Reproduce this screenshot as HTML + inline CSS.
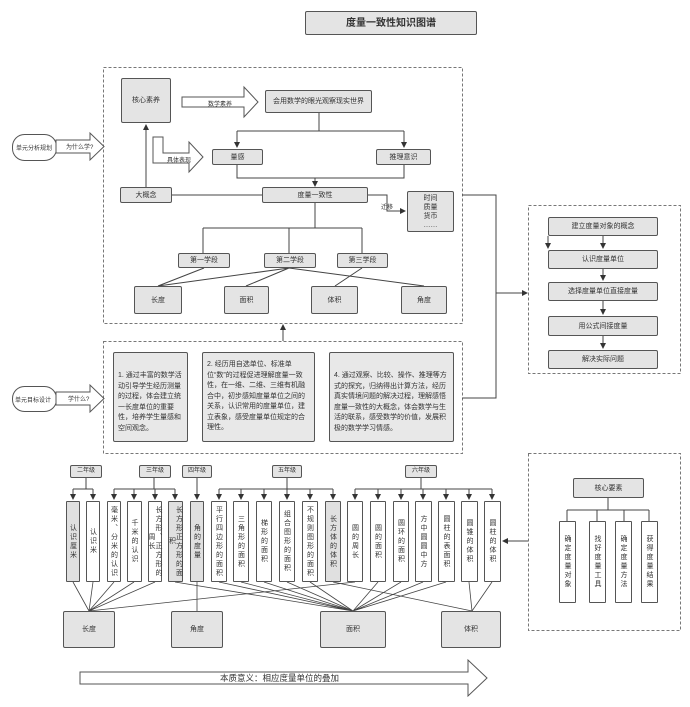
<!DOCTYPE html>
<html><head><meta charset="utf-8">
<style>
html,body{margin:0;padding:0;background:#fff;}
#w{position:relative;width:690px;height:707px;overflow:hidden;font-family:"Liberation Sans","Noto Sans CJK SC",sans-serif;color:#333;}
svg{position:absolute;left:0;top:0;}
.b{position:absolute;box-sizing:border-box;border:1px solid #555;background:#e4e4e4;border-radius:2px;display:flex;align-items:center;justify-content:center;font-size:7px;line-height:9px;text-align:center;}
.v{position:absolute;box-sizing:border-box;border:1px solid #555;background:#fff;border-radius:1px;writing-mode:vertical-rl;font-size:7px;line-height:7px;letter-spacing:2px;display:flex;align-items:center;justify-content:center;text-align:center;}
.g{background:#e0e0e0;}
.p{position:absolute;box-sizing:border-box;border:1px solid #555;background:#e8e8e8;border-radius:2px;font-size:7px;line-height:10.5px;padding:4px 4px;}
.t{position:absolute;font-size:6px;white-space:nowrap;}
</style></head><body><div id="w">
<svg width="690" height="707" viewBox="0 0 690 707">
<defs><marker id="a" markerWidth="6" markerHeight="6" refX="5" refY="3" orient="auto"><path d="M0,0 L6,3 L0,6 z" fill="#333"/></marker></defs>
<g fill="none" stroke="#777" stroke-width="1" stroke-dasharray="3,2">
<rect x="103.5" y="67.5" width="359" height="256"/>
<rect x="103.5" y="341.5" width="359" height="112"/>
<rect x="528.5" y="205.5" width="152" height="168"/>
<rect x="528.5" y="453.5" width="152" height="177"/>
</g>
<g fill="#fff" stroke="#555" stroke-width="1">
<rect x="12.5" y="134.5" width="44" height="26" rx="12"/>
<rect x="12.5" y="386.5" width="44" height="25" rx="12"/>
<polygon points="56,140 90,140 90,133 104,146.5 90,160 90,153 56,153"/>
<polygon points="56,392 90,392 90,385 104,398.5 90,412 90,405 56,405"/>
<polygon points="182,97 244,97 244,87 258,102 244,117 244,107 182,107"/>
<polygon points="153,137 163,137 163,153 189,153 189,142 203,157 189,172 189,163 153,163"/>
<polygon points="80,672 468,672 468,660 487,678 468,696 468,684 80,684"/>
</g>
<g stroke="#444" stroke-width="1" fill="none">
<path d="M319,113 V131 M237,131 H404"/>
<path d="M237,131 V147" marker-end="url(#a)"/>
<path d="M404,131 V147" marker-end="url(#a)"/>
<path d="M237,165 V178 H404 V165 M315,178 V185" />
<path d="M315,178 V186" marker-end="url(#a)"/>
<path d="M146,187 V125" marker-end="url(#a)"/>
<path d="M172,195 H262"/>
<path d="M368,195 H387 V211 H405" marker-end="url(#a)"/>
<path d="M315,203 V228 M203,228 H362 M203,228 V253 M289,228 V253 M362,228 V253"/>
<path d="M204,268 L158,286 M289,268 L158,286 M289,268 L246,286 M289,268 L424,286 M362,268 L335,286"/>
<path d="M283,341 V325" marker-end="url(#a)"/>
<path d="M462,195 H496 V398 H462 M496,293 H527" />
<path d="M496,293 H527" marker-end="url(#a)"/>
<path d="M548,236 V248" marker-end="url(#a)"/>
</g>
<g stroke="#444" stroke-width="1" fill="none">
<path d="M603,236 V248" marker-end="url(#a)"/>
<path d="M603,269 V280" marker-end="url(#a)"/>
<path d="M603,301 V314" marker-end="url(#a)"/>
<path d="M603,336 V348" marker-end="url(#a)"/>
<path d="M608,498 V510 M567,510 H649 M567,510 V521 M597,510 V521 M624,510 V521 M649,510 V521"/>
<path d="M528,541 H503" marker-end="url(#a)"/>
<path d="M86,478 V489 M73,489 H93 M154,478 V489 M114,489 H175 M197,478 V499 M287,478 V489 M219,489 H333 M421,478 V489 M355,489 H492"/>
</g>
<g stroke="#444" stroke-width="1" fill="none">
<path d="M73,489 V499" marker-end="url(#a)"/><path d="M93,489 V499" marker-end="url(#a)"/>
<path d="M114,489 V499" marker-end="url(#a)"/><path d="M134,489 V499" marker-end="url(#a)"/><path d="M155,489 V499" marker-end="url(#a)"/><path d="M175,489 V499" marker-end="url(#a)"/>
<path d="M197,489 V499" marker-end="url(#a)"/>
<path d="M219,489 V499" marker-end="url(#a)"/><path d="M241,489 V499" marker-end="url(#a)"/><path d="M264,489 V499" marker-end="url(#a)"/><path d="M287,489 V499" marker-end="url(#a)"/><path d="M310,489 V499" marker-end="url(#a)"/><path d="M333,489 V499" marker-end="url(#a)"/>
<path d="M355,489 V499" marker-end="url(#a)"/><path d="M378,489 V499" marker-end="url(#a)"/><path d="M401,489 V499" marker-end="url(#a)"/><path d="M423,489 V499" marker-end="url(#a)"/><path d="M446,489 V499" marker-end="url(#a)"/><path d="M469,489 V499" marker-end="url(#a)"/><path d="M492,489 V499" marker-end="url(#a)"/>
</g>
<g stroke="#444" stroke-width="0.8" fill="none">
<path d="M73,582 L89,611 M93,582 L89,611 M114,582 L89,611 M134,582 L89,611 M155,582 L89,611 M355,582 L89,611"/>
<path d="M197,582 V611"/>
<path d="M175,582 L353,611 M219,582 L353,611 M241,582 L353,611 M264,582 L353,611 M287,582 L353,611 M310,582 L353,611 M378,582 L353,611 M401,582 L353,611 M423,582 L353,611 M446,582 L353,611"/>
<path d="M333,582 L472,611 M469,582 L472,611 M492,582 L472,611"/>
</g>
</svg>
<div class="b" style="left:305px;top:11px;width:172px;height:24px;font-size:10px;font-weight:bold;">度量一致性知识图谱</div>
<div class="t" style="left:16px;top:143px;">单元分析规划</div>
<div class="t" style="left:66px;top:142px;">为什么学?</div>
<div class="t" style="left:15px;top:395px;">单元目标设计</div>
<div class="t" style="left:68px;top:394px;">学什么?</div>
<div class="t" style="left:208px;top:99px;">数学素养</div>
<div class="t" style="left:167px;top:155px;">具体表现</div>
<div class="t" style="left:381px;top:202px;">迁移</div>
<div class="b" style="left:121px;top:78px;width:50px;height:45px;">核心素养</div>
<div class="b" style="left:265px;top:90px;width:107px;height:23px;">会用数学的眼光观察现实世界</div>
<div class="b" style="left:212px;top:149px;width:51px;height:16px;">量感</div>
<div class="b" style="left:376px;top:149px;width:55px;height:16px;">推理意识</div>
<div class="b" style="left:120px;top:187px;width:52px;height:16px;">大概念</div>
<div class="b" style="left:262px;top:187px;width:106px;height:16px;">度量一致性</div>
<div class="b" style="left:407px;top:191px;width:47px;height:41px;line-height:9px;">时间<br>质量<br>货币<br>……</div>
<div class="b" style="left:178px;top:253px;width:52px;height:15px;">第一学段</div>
<div class="b" style="left:264px;top:253px;width:52px;height:15px;">第二学段</div>
<div class="b" style="left:337px;top:253px;width:51px;height:15px;">第三学段</div>
<div class="b" style="left:134px;top:286px;width:48px;height:28px;">长度</div>
<div class="b" style="left:224px;top:286px;width:45px;height:28px;">面积</div>
<div class="b" style="left:311px;top:286px;width:47px;height:28px;">体积</div>
<div class="b" style="left:401px;top:286px;width:46px;height:28px;">角度</div>
<div class="p" style="left:113px;top:352px;width:75px;height:90px;padding-top:18px;">1. 通过丰富的数学活动引导学生经历测量的过程，体会建立统一长度单位的重要性，培养学生量感和空间观念。</div>
<div class="p" style="left:202px;top:352px;width:113px;height:90px;padding-top:7px;">2. 经历用自选单位、标准单位“数”的过程促进理解度量一致性，在一维、二维、三维有机融合中，初步感知度量单位之间的关系，认识常用的度量单位，建立表象，感受度量单位规定的合理性。</div>
<div class="p" style="left:329px;top:352px;width:125px;height:90px;padding-top:18px;">4. 通过观察、比较、操作、推理等方式的探究，归纳得出计算方法，经历真实情境问题的解决过程，理解感悟度量一致性的大概念，体会数学与生活的联系，感受数学的价值，发展积极的数学学习情感。</div>
<div class="b" style="left:548px;top:217px;width:110px;height:19px;">建立度量对象的概念</div>
<div class="b" style="left:548px;top:250px;width:110px;height:19px;">认识度量单位</div>
<div class="b" style="left:548px;top:282px;width:110px;height:19px;">选择度量单位直接度量</div>
<div class="b" style="left:548px;top:316px;width:110px;height:20px;">用公式间接度量</div>
<div class="b" style="left:548px;top:350px;width:110px;height:19px;">解决实际问题</div>
<div class="b" style="left:573px;top:478px;width:71px;height:20px;">核心要素</div>
<div class="v" style="left:559px;top:521px;width:17px;height:82px;">确定度量对象</div>
<div class="v" style="left:589px;top:521px;width:17px;height:82px;">找好度量工具</div>
<div class="v" style="left:615px;top:521px;width:17px;height:82px;">确定度量方法</div>
<div class="v" style="left:641px;top:521px;width:17px;height:82px;">获得度量结果</div>
<div class="b" style="left:70px;top:465px;width:32px;height:13px;font-size:6px;">二年级</div>
<div class="b" style="left:139px;top:465px;width:32px;height:13px;font-size:6px;">三年级</div>
<div class="b" style="left:182px;top:465px;width:30px;height:13px;font-size:6px;">四年级</div>
<div class="b" style="left:272px;top:465px;width:30px;height:13px;font-size:6px;">五年级</div>
<div class="b" style="left:405px;top:465px;width:32px;height:13px;font-size:6px;">六年级</div>
<div class="v g" style="left:66px;top:501px;width:14px;height:81px;">认识厘米</div>
<div class="v" style="left:86px;top:501px;width:14px;height:81px;">认识米</div>
<div class="v" style="left:107px;top:501px;width:14px;height:81px;">毫米、分米的认识</div>
<div class="v" style="left:127px;top:501px;width:15px;height:81px;">千米的认识</div>
<div class="v" style="left:148px;top:501px;width:14px;height:81px;">长方形、正方形的周长</div>
<div class="v g" style="left:168px;top:501px;width:15px;height:81px;">长方形正方形的面积</div>
<div class="v g" style="left:190px;top:501px;width:14px;height:81px;">角的度量</div>
<div class="v" style="left:211px;top:501px;width:16px;height:81px;">平行四边形的面积</div>
<div class="v" style="left:233px;top:501px;width:16px;height:81px;">三角形的面积</div>
<div class="v" style="left:256px;top:501px;width:16px;height:81px;">梯形的面积</div>
<div class="v" style="left:279px;top:501px;width:16px;height:81px;">组合图形的面积</div>
<div class="v" style="left:302px;top:501px;width:16px;height:81px;">不规则图形的面积</div>
<div class="v g" style="left:325px;top:501px;width:16px;height:81px;">长方体的体积</div>
<div class="v" style="left:347px;top:501px;width:16px;height:81px;">圆的周长</div>
<div class="v" style="left:370px;top:501px;width:16px;height:81px;">圆的面积</div>
<div class="v" style="left:393px;top:501px;width:16px;height:81px;">圆环的面积</div>
<div class="v" style="left:415px;top:501px;width:17px;height:81px;">方中圆圆中方</div>
<div class="v" style="left:438px;top:501px;width:17px;height:81px;">圆柱的表面积</div>
<div class="v" style="left:461px;top:501px;width:17px;height:81px;">圆锥的体积</div>
<div class="v" style="left:484px;top:501px;width:17px;height:81px;">圆柱的体积</div>
<div class="b" style="left:63px;top:611px;width:52px;height:37px;">长度</div>
<div class="b" style="left:171px;top:611px;width:52px;height:37px;">角度</div>
<div class="b" style="left:320px;top:611px;width:66px;height:37px;">面积</div>
<div class="b" style="left:441px;top:611px;width:60px;height:37px;">体积</div>
<div class="t" style="left:220px;top:672px;font-size:8.5px;">本质意义：相应度量单位的叠加</div>
</div></body></html>
